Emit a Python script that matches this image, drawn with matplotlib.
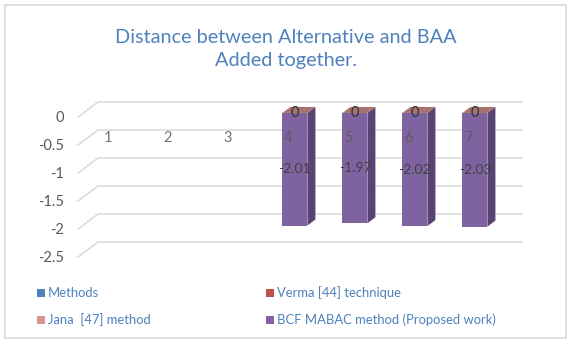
import matplotlib
matplotlib.use("Agg")
import numpy as np
import matplotlib.pyplot as plt
from matplotlib.patches import Polygon, Rectangle

plt.rcParams['font.family'] = ['Lato', 'DejaVu Sans']

# data
categories = [1, 2, 3, 4, 5, 6, 7]
methods = [np.nan] * 7
verma = [np.nan, np.nan, np.nan, 0, 0, 0, 0]
jana = [np.nan, np.nan, np.nan, 0, 0, 0, 0]
bcf = [np.nan, np.nan, np.nan, -2.01, -1.97, -2.02, -2.03]
series_names = ["Methods", "Verma [44] technique", "Jana  [47] method",
                "BCF MABAC method (Proposed work)"]
series_colors = ["#4f81bd", "#c0504d", "#d99694", "#8064a2"]
yticks = [0, -0.5, -1, -1.5, -2, -2.5]

W, H = 572, 347
fig = plt.figure(figsize=(W / 100, H / 100), dpi=100)

# chart frame
fig.patches.append(Rectangle((5 / W, 1 - 338 / H), 561 / W, 333 / H,
                             transform=fig.transFigure, fill=False,
                             edgecolor="#d9d9d9", linewidth=1.2))

fig.text(0.5, 1 - 49 / H, "Distance between Alternative and BAA\nAdded together.",
         ha="center", va="center", fontsize=14.3, color="#4f81bd", linespacing=1.4)

ax = fig.add_axes([75 / W, 1 - 268.2 / H, 455 / W, 176.4 / H])
ax.set_xlim(0.45, 8.033)
ax.set_ylim(-2.7, 0.45)
for s in ax.spines.values():
    s.set_visible(False)
ax.set_xticks([])
ax.set_yticks(yticks, [f"{t:g}" for t in yticks])
ax.tick_params(axis="y", length=0, pad=8, labelsize=10.5, labelcolor="#595959")

# pseudo 3d depth (data units)
DX, DY = 0.333, 0.268
f0, f1 = 0.27, 0.67
x_start, x_end = 0.5, 7.9

for v in yticks:
    ax.plot([x_start, x_start + DX, x_end], [v, v + DY, v + DY],
            color="#d9d9d9", linewidth=1.1, zorder=1)

width = 0.417
xs = np.array(categories) + 0.115
y0 = f0 * DY
ddx, ddy = (f1 - f0) * DX, (f1 - f0) * DY
for x, v, top in zip(xs, bcf, verma):
    if np.isnan(v):
        continue
    ax.bar(x, v, bottom=y0, width=width, color="#7f63a1", zorder=3)
    l, r = x - width / 2, x + width / 2
    ax.add_patch(Polygon([(r, y0), (r + ddx, y0 + ddy), (r + ddx, y0 + v + ddy),
                          (r, y0 + v)], closed=True, facecolor="#584474",
                         edgecolor="none", zorder=3))
    topcol = "#a8736e" if not np.isnan(top) else "#9a82bc"
    ax.add_patch(Polygon([(l, y0), (l + ddx, y0 + ddy), (r + ddx, y0 + ddy),
                          (r, y0)], closed=True, facecolor=topcol,
                         edgecolor="none", zorder=3))
    ax.text(x, y0 + v / 2, f"{v:.2f}", ha="center", va="center",
            fontsize=10, color="#404040", zorder=5)

# category labels sit on the 3d floor, drawn over the bars
for c in categories:
    ax.text(c, -0.375, str(c), ha="center", va="center", fontsize=10.5,
            color="#595959", alpha=0.85, zorder=4)

for vals in (verma, jana):
    for x, v in zip(xs, vals):
        if not np.isnan(v):
            ax.text(x, y0 + v, f"{v:g}", ha="center", va="center",
                    fontsize=10.5, color="#404040", zorder=5)

# legend
for i, (name, col) in enumerate(zip(series_names, series_colors)):
    px = 37 + (i % 2) * 229
    py = 293 + (i // 2) * 27
    fig.patches.append(Rectangle((px / W, 1 - (py + 4) / H), 8 / W, 8 / H,
                                 transform=fig.transFigure, facecolor=col,
                                 edgecolor="none"))
    fig.text((px + 11) / W, 1 - py / H, name, ha="left", va="center",
             fontsize=9.4, color="#4f81bd")

fig.savefig("out.png", dpi=100)
